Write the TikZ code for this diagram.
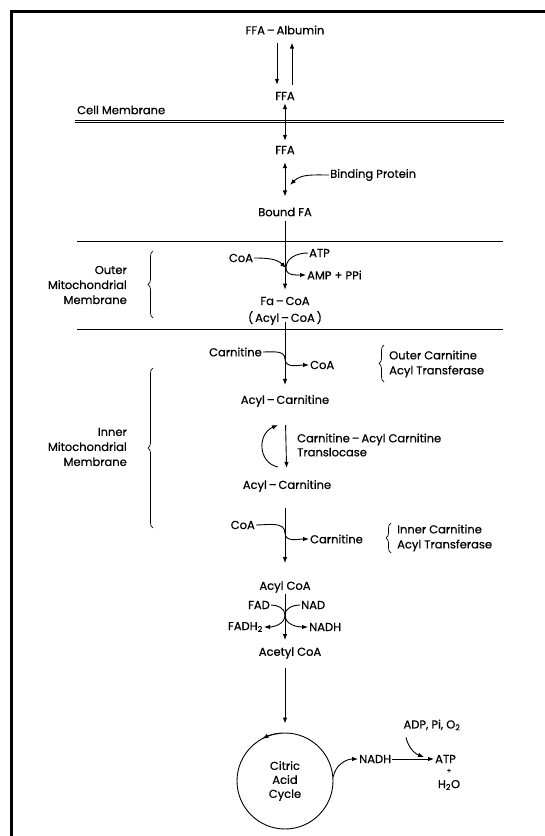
\documentclass[tikz,border=0pt]{standalone}
\usepackage{fontspec}
\setmainfont{Poppins}[FakeBold=0.6]
\usetikzlibrary{arrows.meta,decorations.pathreplacing}

\begin{document}
\begin{tikzpicture}[x=1pt,y=1pt,
    every node/.style={font=\fontsize{11.5}{15}\selectfont, inner sep=1pt},
    flow/.style={-{Latex[length=6pt,width=4.5pt]}, line width=0.9pt},
    both/.style={{Latex[length=6pt,width=4.5pt]}-{Latex[length=6pt,width=4.5pt]}, line width=0.9pt},
    layer/.style={line width=0.9pt},
    brc/.style={decorate, decoration={brace, amplitude=5pt}, line width=0.7pt}]

        \useasboundingbox (0,0) rectangle (545,836);

        % the frame
        \draw[line width=3.5pt] (11.5,0) -- (11.5,824.5) -- (545,824.5);

        % the membranes
        \draw[layer, double, double distance=1.6pt] (75,714.5) -- (504,714.5);
        \draw[layer] (77,595) -- (503,595);
        \draw[layer] (77,507) -- (503,507);

        % the compounds on the main path
        \node (alb) at (285,806) {FFA\,--\,Albumin};
        \node (ffa1) at (285,740) {FFA};
        \node (ffa2) at (285,686) {FFA};
        \node (bfa) at (285,624) {Bound FA};
        \node (facoa) at (285,535) {Fa\,--\,CoA};
        \node (acoa) at (285,518) {(\,Acyl\,--\,CoA\,)};
        \node (acar1) at (285,435) {Acyl\,--\,Carnitine};
        \node (acar2) at (287,350) {Acyl\,--\,Carnitine};
        \node (acylcoa) at (285,249) {Acyl CoA};
        \node (acetyl) at (290,183) {Acetyl CoA};
        \node[circle, draw, line width=0.9pt, minimum size=96pt, align=center, font=\fontsize{11.5}{14}\selectfont] (cac) at (285,55) {Citric\\Acid\\Cycle};

        % the side texts
        \node[anchor=west] (cellm) at (76,726) {Cell Membrane};
        \node[anchor=west] (bprot) at (329,661) {Binding Protein};
        \node (coa1) at (241,578) {CoA};
        \node[anchor=west] (atp1) at (308,583) {ATP};
        \node[anchor=west] (amp) at (306,561) {AMP + PPi};
        \node[anchor=east, align=right] (outer) at (128,551) {Outer\\Mitochondrial\\Membrane};
        \node[anchor=east] (carn1) at (263,484) {Carnitine};
        \node[anchor=west] (coa2) at (309,471) {CoA};
        \node[anchor=west, align=left] (ocat) at (388,472) {Outer Carnitine\\Acyl Transferase};
        \node[anchor=west, align=left, font=\fontsize{11.5}{14}\selectfont] (trans) at (296,391) {Carnitine\,--\,Acyl Carnitine\\Translocase};
        \node[anchor=east, align=right] (inner) at (128,389) {Inner\\Mitochondrial\\Membrane};
        \node[anchor=east] (coa3) at (256,311) {CoA};
        \node[anchor=west] (carn3) at (309,297) {Carnitine};
        \node[anchor=west, align=left] (icat) at (396,298) {Inner Carnitine\\Acyl Transferase};
        \node[anchor=east] (fad) at (271,231) {FAD};
        \node[anchor=west] (nad) at (300,231) {NAD};
        \node[anchor=east] (fadh) at (264,209) {FADH\textsubscript{2}};
        \node[anchor=west] (nadh1) at (308,209) {NADH};
        \node[anchor=west] (nadh2) at (358,77) {NADH};
        \node[anchor=west] (atp2) at (434,77) {ATP};
        \node[font=\fontsize{7}{8}\selectfont] (plus) at (449,65) {+};
        \node (water) at (449,51) {H\textsubscript{2}O};
        \node (adp) at (432,111) {ADP, Pi, O\textsubscript{2}};

        % the points where side arrows meet the main path
        \coordinate (bpend) at (290,651);
        \coordinate (j1) at (286,568);
        \coordinate (j2) at (285,477);
        \coordinate (tl1) at (278,369);
        \coordinate (tl2) at (278,411);
        \coordinate (j3) at (285,303);
        \coordinate (j4) at (285,221);
        \coordinate (adpend) at (424,79);

        % draw the main arrows
        \draw[flow, shorten <=7pt, shorten >=6pt] ([xshift=-8pt]alb.south) -- ([xshift=-8pt]ffa1.north);
        \draw[flow, shorten <=6pt, shorten >=7pt] ([xshift=7pt]ffa1.north) -- ([xshift=7pt]alb.south);
        \draw[both, shorten <=2pt, shorten >=4pt] (ffa1) -- (ffa2);
        \draw[both, shorten <=7pt, shorten >=10pt] (ffa2) -- (bfa);
        \draw[flow, shorten <=3pt, shorten >=6pt] (bfa) -- (facoa);
        \draw[flow, shorten <=-4pt, shorten >=9pt] (acoa) -- (acar1);
        \draw[flow, shorten <=17pt, shorten >=11pt] (acar1) -- (acar2);
        \draw[flow, shorten <=15pt, shorten >=17pt] (acar2.south -| acylcoa) -- (acylcoa);
        \draw[flow, shorten >=6pt] (acylcoa) -- (acylcoa |- acetyl.north);
        \draw[flow, shorten <=8pt, shorten >=9pt] (acetyl.south -| cac) -- (cac);

        % draw the side arrows
        \draw[flow] (bprot.west) to[out=180,in=45] (bpend);
        \draw[flow] (coa1.east) to[out=0,in=135] (j1);
        \draw[flow] (atp1.west) to[out=180,in=90] (j1) to[out=-90,in=180] (amp.west);
        \draw[flow] (carn1.east) to[out=0,in=90] (j2) to[out=-90,in=180] (coa2.west);
        \draw[flow] (tl1) .. controls (258,373) and (257,402) .. (tl2);
        \draw[flow] (coa3.east) to[out=0,in=90] (j3) to[out=-90,in=180] (carn3.west);
        \draw[flow] (fad.east) to[out=0,in=90] (j4) to[out=-90,in=0] (fadh.east);
        \draw[flow] (nad.west) to[out=180,in=90] (j4) to[out=-90,in=180] (nadh1.west);
        \draw[flow] ([shift={(95:48)}]cac.center) arc (95:118:48);
        \draw[flow] (cac.5) to[out=80,in=180] (nadh2.west);
        \draw[flow] (nadh2.east) -- (atp2.west);
        \draw[flow, shorten <=6pt] ([xshift=-27pt]adp.south) to[out=-80,in=160] (adpend);

        % the braces
        \draw[brc] (153,518) -- (153,585);
        \draw[brc] (153,308) -- (153,468);
        \draw[brc] (384,454) -- (384,491);
        \draw[brc] (391,283) -- (391,313);

    \end{tikzpicture}
\end{document}
